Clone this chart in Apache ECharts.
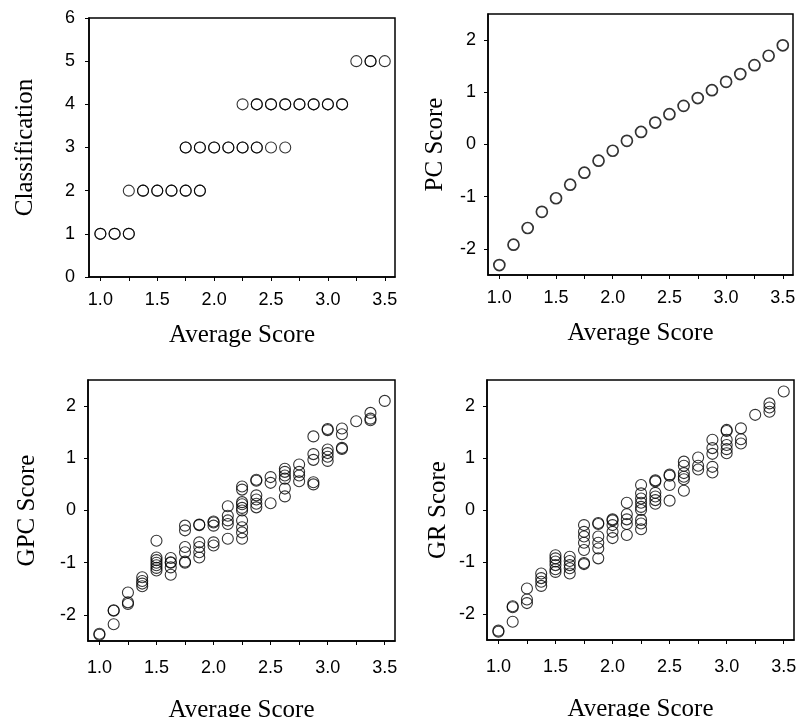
<!DOCTYPE html>
<html>
<head>
<meta charset="utf-8">
<script src="https://cdn.jsdelivr.net/npm/echarts@6/dist/echarts.min.js"></script>
<style>html,body{margin:0;padding:0;background:#fff}#c{width:798px;height:717px}</style>
</head>
<body>
<div id="c"></div>
<script>
// ---- data ----
const xLabels = [1.0, 1.5, 2.0, 2.5, 3.0, 3.5];
const xTicks = [1.0, 1.25, 1.5, 1.75, 2.0, 2.25, 2.5, 2.75, 3.0, 3.25, 3.5];
const scoreTicks = [-2, -1, 0, 1, 2];
const classTicks = [0, 1, 2, 3, 4, 5, 6];

const classPoints = [
  [1,1],[1,1],[1.125,1],[1.125,1],[1.25,1],[1.25,1],
  [1.25,2],[1.375,2],[1.375,2],[1.5,2],[1.5,2],[1.625,2],[1.625,2],[1.75,2],[1.75,2],[1.875,2],[1.875,2],
  [1.75,3],[1.75,3],[1.875,3],[1.875,3],[2,3],[2,3],[2.125,3],[2.125,3],[2.25,3],[2.25,3],[2.375,3],[2.375,3],[2.5,3],[2.625,3],
  [2.25,4],[2.375,4],[2.375,4],[2.5,4],[2.5,4],[2.625,4],[2.625,4],[2.75,4],[2.75,4],[2.875,4],[2.875,4],[3,4],[3,4],[3.125,4],[3.125,4],
  [3.25,5],[3.375,5],[3.375,5],[3.5,5]
];

const pcX = [1, 1.125, 1.25, 1.375, 1.5, 1.625, 1.75, 1.875, 2, 2.125, 2.25, 2.375, 2.5, 2.625, 2.75, 2.875, 3, 3.125, 3.25, 3.375, 3.5];
const pcY = [-2.31, -1.92, -1.60, -1.29, -1.03, -0.77, -0.54, -0.31, -0.12, 0.07, 0.24, 0.42, 0.58, 0.74, 0.89, 1.04, 1.20, 1.35, 1.52, 1.70, 1.90];

const gpcPoints = [
  [1,-2.36],[1,-2.38],
  [1.125,-1.91],[1.125,-1.92],[1.125,-2.18],
  [1.25,-1.57],[1.25,-1.76],[1.25,-1.79],
  [1.375,-1.28],[1.375,-1.35],[1.375,-1.40],[1.375,-1.45],
  [1.5,-0.58],[1.5,-0.90],[1.5,-0.95],[1.5,-1.00],[1.5,-1.05],[1.5,-1.10],[1.5,-1.15],
  [1.625,-0.91],[1.625,-0.99],[1.625,-1.00],[1.625,-1.09],[1.625,-1.23],
  [1.75,-0.29],[1.75,-0.38],[1.75,-0.70],[1.75,-0.80],[1.75,-0.98],[1.75,-1.00],
  [1.875,-0.27],[1.875,-0.28],[1.875,-0.61],[1.875,-0.70],[1.875,-0.80],[1.875,-0.90],
  [2,-0.21],[2,-0.23],[2,-0.29],[2,-0.61],[2,-0.67],
  [2.125,0.08],[2.125,-0.10],[2.125,-0.19],[2.125,-0.26],[2.125,-0.54],
  [2.25,0.46],[2.25,0.40],[2.25,0.16],[2.25,0.12],[2.25,0.05],[2.25,0.00],[2.25,-0.19],[2.25,-0.32],[2.25,-0.42],[2.25,-0.54],
  [2.375,0.57],[2.375,0.59],[2.375,0.29],[2.375,0.21],[2.375,0.13],[2.375,0.06],
  [2.5,0.64],[2.5,0.53],[2.5,0.14],
  [2.625,0.80],[2.625,0.74],[2.625,0.67],[2.625,0.61],[2.625,0.42],[2.625,0.27],
  [2.75,0.88],[2.75,0.74],[2.75,0.67],[2.75,0.56],
  [2.875,1.42],[2.875,1.08],[2.875,0.97],[2.875,0.54],[2.875,0.50],
  [3,1.54],[3,1.56],[3,1.17],[3,1.10],[3,1.03],[3,0.95],
  [3.125,1.57],[3.125,1.46],[3.125,1.18],[3.125,1.20],
  [3.25,1.71],
  [3.375,1.87],[3.375,1.73],[3.375,1.76],
  [3.5,2.10]
];

const grPoints = [
  [1,-2.32],[1,-2.34],
  [1.125,-1.85],[1.125,-1.87],[1.125,-2.15],
  [1.25,-1.51],[1.25,-1.72],[1.25,-1.79],
  [1.375,-1.22],[1.375,-1.31],[1.375,-1.38],[1.375,-1.46],
  [1.5,-0.87],[1.5,-0.93],[1.5,-0.99],[1.5,-1.06],[1.5,-1.14],[1.5,-1.19],
  [1.625,-0.90],[1.625,-0.98],[1.625,-1.06],[1.625,-1.12],[1.625,-1.22],
  [1.75,-0.29],[1.75,-0.42],[1.75,-0.51],[1.75,-0.63],[1.75,-0.77],[1.75,-1.02],[1.75,-1.04],
  [1.875,-0.25],[1.875,-0.27],[1.875,-0.51],[1.875,-0.63],[1.875,-0.74],[1.875,-0.93],
  [2,-0.18],[2,-0.20],[2,-0.29],[2,-0.42],[2,-0.54],
  [2.125,0.14],[2.125,-0.08],[2.125,-0.18],[2.125,-0.27],[2.125,-0.48],
  [2.25,0.48],[2.25,0.32],[2.25,0.22],[2.25,0.14],[2.25,0.06],[2.25,0.00],[2.25,-0.19],[2.25,-0.26],[2.25,-0.37],
  [2.375,0.55],[2.375,0.57],[2.375,0.33],[2.375,0.26],[2.375,0.19],[2.375,0.12],
  [2.5,0.66],[2.5,0.68],[2.5,0.48],[2.5,0.18],
  [2.625,0.93],[2.625,0.85],[2.625,0.71],[2.625,0.64],[2.625,0.59],[2.625,0.37],
  [2.75,1.01],[2.75,0.85],[2.75,0.78],
  [2.875,1.35],[2.875,1.19],[2.875,1.08],[2.875,0.83],[2.875,0.72],
  [3,1.52],[3,1.54],[3,1.35],[3,1.25],[3,1.17],[3,1.09],
  [3.125,1.57],[3.125,1.36],[3.125,1.28],
  [3.25,1.83],
  [3.375,2.05],[3.375,1.97],[3.375,1.89],
  [3.5,2.28]
];

// ---- chart ----
const chart = echarts.init(document.getElementById('c'));
const sans = 'Liberation Sans';
const serif = 'Liberation Serif';

function xAxis(gi, gap, lblMargin) {
  return {
    type: 'value', gridIndex: gi, min: 0.9, max: 3.59,
    name: 'Average Score', nameLocation: 'middle', nameGap: gap,
    nameTextStyle: { fontFamily: serif, fontSize: 25, color: '#000' },
    axisLine: { show: true, onZero: false, lineStyle: { color: '#000', width: 1.5 } },
    axisTick: { show: true, inside: false, length: 4, customValues: xTicks, lineStyle: { color: '#000', width: 1 } },
    axisLabel: { customValues: xLabels, margin: lblMargin, fontFamily: sans, fontSize: 18, color: '#000',
      formatter: v => v.toFixed(1) },
    splitLine: { show: false }
  };
}
function yAxisScore(gi, name, gap) {
  return {
    type: 'value', gridIndex: gi, min: -2.5, max: 2.5,
    name: name, nameLocation: 'middle', nameGap: gap,
    nameTextStyle: { fontFamily: serif, fontSize: 25, color: '#000' },
    axisLine: { show: true, onZero: false, lineStyle: { color: '#000', width: 1.5 } },
    axisTick: { show: true, length: 4, customValues: scoreTicks, lineStyle: { color: '#000', width: 1 } },
    axisLabel: { customValues: scoreTicks, margin: 12, fontFamily: sans, fontSize: 18, color: '#000',
      formatter: v => String(v) },
    splitLine: { show: false }
  };
}
function scatter(xi, data, bw) {
  return {
    type: 'scatter', xAxisIndex: xi, yAxisIndex: xi, data: data,
    symbol: 'circle', symbolSize: 11,
    itemStyle: { color: 'rgba(0,0,0,0)', borderColor: '#000', borderWidth: bw },
    emphasis: { disabled: true }, silent: true
  };
}
const gridBase = { show: true, borderColor: '#000', borderWidth: 1.5, backgroundColor: 'transparent',
  containLabel: false, outerBoundsMode: 'none' };

chart.setOption({
  animation: false,
  grid: [
    Object.assign({ left: 89, top: 18, width: 306, height: 259 }, gridBase),
    Object.assign({ left: 488, top: 14, width: 305, height: 261 }, gridBase),
    Object.assign({ left: 88, top: 380, width: 307, height: 261 }, gridBase),
    Object.assign({ left: 487, top: 380, width: 307, height: 260 }, gridBase)
  ],
  xAxis: [xAxis(0, 46, 14), xAxis(1, 46, 14), xAxis(2, 57, 18), xAxis(3, 57, 18)],
  yAxis: [
    {
      type: 'value', gridIndex: 0, min: 0, max: 6, interval: 1,
      name: 'Classification', nameLocation: 'middle', nameGap: 51,
      nameTextStyle: { fontFamily: serif, fontSize: 25, color: '#000' },
      axisLine: { show: true, onZero: false, lineStyle: { color: '#000', width: 1.5 } },
      axisTick: { show: true, length: 4, customValues: classTicks, lineStyle: { color: '#000', width: 1 } },
      axisLabel: { margin: 14, fontFamily: sans, fontSize: 18, color: '#000' },
      splitLine: { show: false }
    },
    yAxisScore(1, 'PC Score', 40),
    yAxisScore(2, 'GPC Score', 48),
    yAxisScore(3, 'GR Score', 36)
  ],
  series: [
    scatter(0, classPoints, 1.1),
    scatter(1, pcX.map((x, i) => [x, pcY[i]]), 1.7),
    scatter(2, gpcPoints, 1.1),
    scatter(3, grPoints, 1.1)
  ]
});
</script>
</body>
</html>
